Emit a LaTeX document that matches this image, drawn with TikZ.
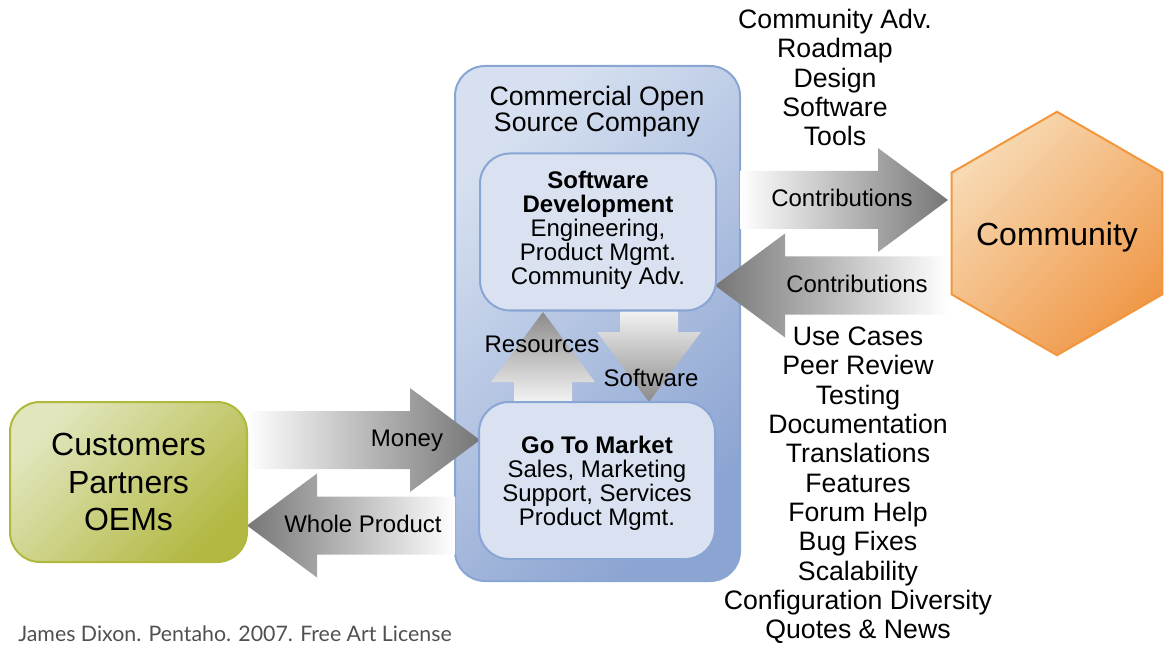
\documentclass[tikz,border=0pt]{standalone}
\usepackage{fontspec}
\setmainfont{Liberation Sans}
\newfontfamily\footfont{Lato}
\usetikzlibrary{calc,shapes.geometric}

\definecolor{cosTL}{RGB}{214,224,240}
\definecolor{cosBR}{RGB}{140,164,210}
\definecolor{cosLine}{RGB}{137,165,212}
\definecolor{boxFill}{RGB}{218,226,241}
\definecolor{hexTL}{RGB}{247,218,180}
\definecolor{hexBR}{RGB}{240,152,72}
\definecolor{hexLine}{RGB}{243,150,60}
\definecolor{custTL}{RGB}{226,230,190}
\definecolor{custBR}{RGB}{178,184,66}
\definecolor{custLine}{RGB}{176,185,60}
\definecolor{arrowGray}{RGB}{118,118,118}
\definecolor{footGray}{RGB}{80,80,80}

\newcommand\fs[2]{\fontsize{#1}{#2}\selectfont}

\tikzset{
  % wide block arrow drawn from the start point to the tip
  fatarrow/.style={to path={
    let \p1=(\tikztostart), \p2=(\tikztotarget),
        \n1={veclen(\x2-\x1,\y2-\y1)},
        \n2={(\x2-\x1)/\n1}, \n3={(\y2-\y1)/\n1}
    in ({\x1-(\n3)*21.75pt},{\y1+(\n2)*21.75pt})
    -- ({\x2-(\n2)*52.5pt-(\n3)*21.75pt},{\y2-(\n3)*52.5pt+(\n2)*21.75pt})
    -- ({\x2-(\n2)*52.5pt-(\n3)*39pt},{\y2-(\n3)*52.5pt+(\n2)*39pt})
    -- (\p2)
    -- ({\x2-(\n2)*52.5pt+(\n3)*39pt},{\y2-(\n3)*52.5pt-(\n2)*39pt})
    -- ({\x2-(\n2)*52.5pt+(\n3)*21.75pt},{\y2-(\n3)*52.5pt-(\n2)*21.75pt})
    -- ({\x1+(\n3)*21.75pt},{\y1-(\n2)*21.75pt}) -- cycle}},
  company/.style={rectangle, rounded corners=22.5pt, draw=cosLine, line width=1.5pt,
    top color=cosTL, bottom color=cosBR, shading angle=45,
    minimum width=213.75pt, minimum height=386.25pt},
  unit/.style={rectangle, rounded corners=22.5pt, draw=cosLine, line width=1.5pt,
    fill=boxFill, minimum width=177pt, minimum height=117.75pt,
    align=center, font=\fs{18}{18}},
  customers/.style={rectangle, rounded corners=22.5pt, draw=custLine, line width=1.5pt,
    top color=custTL, bottom color=custBR, shading angle=45,
    minimum width=177.75pt, minimum height=120pt, align=center, font=\fs{24}{28}},
  community/.style={regular polygon, regular polygon sides=6, shape border rotate=30,
    draw=hexLine, line width=1.5pt, top color=hexTL, bottom color=hexBR, shading angle=45,
    minimum size=182.6pt, inner sep=0pt},
  flowlabel/.style={font=\fs{18}{18}, inner sep=0pt},
  itemlist/.style={align=center, font=\fs{20}{22}, inner sep=0pt},
}

\begin{document}
\begin{tikzpicture}[x=0.75pt,y=-0.75pt]
\useasboundingbox (0,0) rectangle (1167,645);

% company container and its title
\node[company] (cosc) at (597.5,323.5) {};
\node[align=center, font=\fs{20}{19.5}] (title) at (597,111.5) {Commercial Open\\Source Company};

% end points of the flows
\coordinate (moneyS) at (247,440);   \coordinate (moneyT) at (480,440);
\coordinate (wholeS) at (455,525.5); \coordinate (wholeT) at (247,525.5);
\coordinate (contS)  at (740,200);   \coordinate (contT)  at (948,200);
\coordinate (backS)  at (948,285.5); \coordinate (backT)  at (715,285.5);
\coordinate (resS)   at (543,401);   \coordinate (resT)   at (543,312);
\coordinate (softS)  at (649,311);   \coordinate (softT)  at (649,402);

% flows
\path[fatarrow, left color=white, right color=arrowGray] (moneyS) to (moneyT);
\path[fatarrow, left color=arrowGray, right color=white] (wholeS) to (wholeT);
\path[fatarrow, left color=white, right color=arrowGray] (contS) to (contT);
\path[fatarrow, left color=arrowGray, right color=white] (backS) to (backT);
\path[fatarrow, top color=arrowGray!85, bottom color=white!95!black] (resS) to (resT);
\path[fatarrow, top color=white!95!black, bottom color=arrowGray!85] (softS) to (softT);

% company units
\node[unit] (dev) at (598,232) {};
\node[align=center, font=\fs{18}{18}, inner sep=0pt] (devtext) at (598,230.5) {\textbf{Software}\\\textbf{Development}\\Engineering,\\Product Mgmt.\\Community Adv.};
\node[unit] (gtm) at (597,480.5) {};
\node[align=center, font=\fs{18}{18}, inner sep=0pt] (gtmtext) at (597,483.5) {\textbf{Go To Market}\\Sales, Marketing\\Support, Services\\Product Mgmt.};

% outside parties
\node[customers] (cust) at (128.5,482) {Customers\\Partners\\OEMs};
\node[community] (comm) at (1057,233.5) {};
\node[font=\fs{24}{28}, inner sep=0pt] (commtext) at (1057,237) {Community};

% flow labels
\node[flowlabel] (lres)   at (542,344) {Resources};
\node[flowlabel] (lsoft)  at (651,378) {Software};
\node[flowlabel] (lmoney) at (407,440.5) {Money};
\node[flowlabel] (lwhole) at (363,524) {Whole Product};
\node[flowlabel] (lcont)  at (842,198) {Contributions};
\node[flowlabel] (lback)  at (857,284) {Contributions};

% what flows each way
\node[itemlist] (outlist) at (835,77.5) {Community Adv.\\Roadmap\\Design\\Software\\Tools};
\node[itemlist] (inlist) at (858,485.5) {Use Cases\\Peer Review\\Testing\\Documentation\\Translations\\Features\\Forum Help\\Bug Fixes\\Scalability\\Configuration Diversity\\Quotes \& News};

% credit line
\node[anchor=base west, inner sep=0pt, text=footGray, font=\footfont\fs{16}{18}] (credit) at (18,641.5) {James Dixon. Pentaho. 2007. Free Art License};
\end{tikzpicture}
\end{document}
